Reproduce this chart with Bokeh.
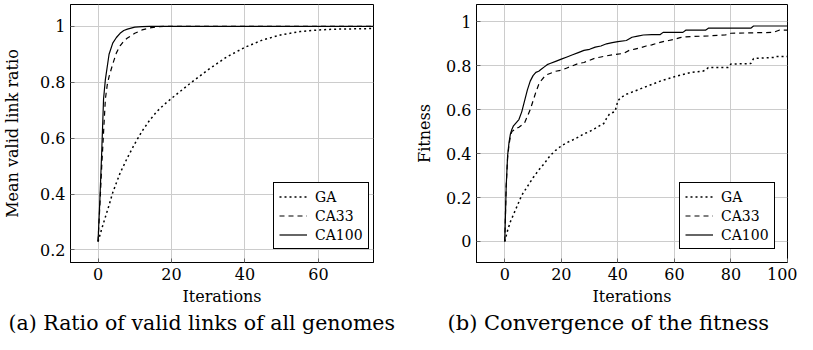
from bokeh.plotting import figure
from bokeh.models import Range1d, FixedTicker, Legend, LegendItem, Title
from bokeh.layouts import row
from bokeh.embed import file_html
from bokeh.resources import INLINE

FONT = "DejaVu Serif"

# ---------------- (a) Mean valid link ratio ----------------
a_ga_x = [0, 1, 2, 3, 4, 5, 6, 8, 10, 12, 14, 16, 18, 20, 25, 30, 35, 40, 45, 50, 55, 60, 65, 70, 75]
a_ga_y = [0.23, 0.275, 0.318, 0.36, 0.405, 0.44, 0.475, 0.53, 0.58, 0.625, 0.663, 0.695, 0.72, 0.742,
          0.795, 0.845, 0.89, 0.925, 0.952, 0.97, 0.981, 0.987, 0.990, 0.991, 0.992]

a_ca33_x = [0, 0.5, 1, 1.5, 2, 2.5, 3, 4, 5, 6, 7, 8, 10, 12, 14, 16, 18, 20, 75]
a_ca33_y = [0.23, 0.36, 0.50, 0.62, 0.74, 0.79, 0.82, 0.865, 0.905, 0.93, 0.947, 0.958, 0.975, 0.987,
            0.994, 0.998, 1.0, 1.0, 1.0]

a_ca100_x = [0, 0.5, 1, 1.5, 2, 3, 4, 5, 6, 7, 8, 10, 12, 14, 75]
a_ca100_y = [0.23, 0.38, 0.55, 0.74, 0.81, 0.90, 0.94, 0.96, 0.975, 0.985, 0.99, 0.997, 0.999, 1.0, 1.0]

a_xticks = [0, 20, 40, 60]
a_yticks = [0.2, 0.4, 0.6, 0.8, 1.0]
a_ylabels = ["0.2", "0.4", "0.6", "0.8", "1"]

# ---------------- (b) Fitness ----------------
b_ga_x = [0, 1, 2, 3, 4, 5, 6, 8, 10, 12, 14, 16, 18, 20, 22, 24, 26, 28, 30, 32, 34, 35, 36, 37, 39,
          40, 41, 43, 45, 47, 49, 52, 55, 58, 60, 63, 66, 70, 71, 72, 79, 80, 87, 88, 95, 96, 100]
b_ga_y = [0, 0.05, 0.09, 0.12, 0.15, 0.18, 0.21, 0.25, 0.29, 0.325, 0.355, 0.39, 0.415, 0.435, 0.45,
          0.462, 0.475, 0.49, 0.50, 0.515, 0.53, 0.537, 0.56, 0.58, 0.592, 0.64, 0.655, 0.67, 0.68,
          0.69, 0.70, 0.715, 0.73, 0.742, 0.75, 0.76, 0.77, 0.775, 0.78, 0.792, 0.792, 0.808, 0.81,
          0.833, 0.838, 0.842, 0.842]

b_ca33_x = [0, 0.5, 1, 1.5, 2, 2.5, 3, 4, 5, 6, 7, 8, 9, 10, 11, 12, 13, 14, 15, 16, 18, 20, 22, 24,
            26, 28, 30, 32, 34, 36, 38, 40, 42, 44, 46, 48, 50, 52, 54, 56, 58, 60, 62, 64, 72, 78,
            80, 95, 97, 100]
b_ca33_y = [0, 0.25, 0.38, 0.44, 0.48, 0.50, 0.505, 0.515, 0.52, 0.53, 0.54, 0.57, 0.60, 0.64, 0.68,
            0.715, 0.735, 0.75, 0.76, 0.765, 0.775, 0.78, 0.79, 0.80, 0.81, 0.815, 0.825, 0.835, 0.84,
            0.845, 0.85, 0.853, 0.856, 0.87, 0.876, 0.882, 0.89, 0.895, 0.903, 0.91, 0.915, 0.92,
            0.928, 0.932, 0.936, 0.94, 0.948, 0.952, 0.962, 0.962]

b_ca100_x = [0, 0.5, 1, 1.5, 2, 2.5, 3, 4, 5, 6, 7, 8, 9, 10, 11, 12, 13, 14, 15, 16, 18, 20, 22, 24,
             26, 28, 30, 32, 34, 36, 38, 40, 43, 45, 47, 49, 52, 55, 56, 63, 64, 71, 72, 87, 88, 100]
b_ca100_y = [0, 0.25, 0.39, 0.45, 0.49, 0.51, 0.525, 0.54, 0.555, 0.59, 0.64, 0.69, 0.73, 0.755, 0.77,
             0.775, 0.785, 0.795, 0.805, 0.81, 0.82, 0.83, 0.84, 0.85, 0.86, 0.87, 0.875, 0.885, 0.89,
             0.90, 0.905, 0.91, 0.915, 0.93, 0.935, 0.94, 0.942, 0.942, 0.952, 0.952, 0.962, 0.962,
             0.971, 0.971, 0.981, 0.981]

b_xticks = [0, 20, 40, 60, 80, 100]
b_yticks = [0, 0.2, 0.4, 0.6, 0.8, 1.0]
b_ylabels = ["0", "0.2", "0.4", "0.6", "0.8", "1"]

series_names = ["GA", "CA33", "CA100"]


def make_fig(width, bl, br, xr, yr, xticks, yticks, ylabels, ylabel, caption, cap_offset,
             cap_size, ylab_standoff, series):
    p = figure(width=width, height=334, x_range=Range1d(*xr), y_range=Range1d(*yr),
               output_backend="svg", toolbar_location=None,
               min_border_left=bl, min_border_right=br, min_border_top=4, min_border_bottom=70)
    p.background_fill_color = "white"
    p.border_fill_color = "white"
    p.outline_line_color = "black"
    p.outline_line_width = 1
    p.outline_line_alpha = 1.0

    p.xaxis.ticker = FixedTicker(ticks=xticks)
    p.yaxis.ticker = FixedTicker(ticks=yticks)
    p.yaxis.major_label_overrides = {v: s for v, s in zip(yticks, ylabels)}
    p.xaxis.axis_label = "Iterations"
    p.yaxis.axis_label = ylabel
    for ax in p.axis:
        ax.axis_label_text_font = FONT
        ax.axis_label_text_font_size = "16px"
        ax.axis_label_text_font_style = "normal"
        ax.axis_label_text_color = "black"
        ax.major_label_text_font = FONT
        ax.major_label_text_font_size = "16px"
        ax.major_label_text_color = "black"
        ax.major_tick_in = 4
        ax.major_tick_out = 0
        ax.major_tick_line_color = "#666666"
        ax.minor_tick_line_color = None
        ax.axis_line_color = "black"
        ax.major_label_standoff = 5
    p.xaxis.axis_label_standoff = 4
    p.yaxis.axis_label_standoff = ylab_standoff

    p.xgrid.grid_line_color = "#cccccc"
    p.ygrid.grid_line_color = "#cccccc"

    dashes = ["2 3", "5 4", "solid"]
    widths = [1.5, 1.2, 1.2]
    items = []
    for (xs, ys), name, dash, lw in zip(series, series_names, dashes, widths):
        r = p.line(xs, ys, line_color="black", line_width=lw, line_dash=dash)
        items.append(LegendItem(label=name, renderers=[r]))

    legend = Legend(items=items, location=(203, 13), margin=0, padding=5, spacing=2,
                    glyph_width=28, glyph_height=17, label_height=17, label_standoff=8,
                    label_text_font=FONT, label_text_font_size="14px", label_text_color="black",
                    border_line_color="black", border_line_width=1, border_line_alpha=1.0,
                    background_fill_color="white", background_fill_alpha=1.0)
    p.add_layout(legend)

    t = Title(text=caption, align="left", offset=cap_offset, text_font=FONT,
              text_font_size=cap_size, text_font_style="normal", text_color="black", standoff=0)
    p.add_layout(t, "below")
    return p


p1 = make_fig(400, 62, 27, (-7.5, 75), (0.155, 1.078), a_xticks, a_yticks, a_ylabels,
              "Mean valid link ratio", "(a) Ratio of valid links of all genomes", -62, "20.5px", 15,
              [(a_ga_x, a_ga_y), (a_ca33_x, a_ca33_y), (a_ca100_x, a_ca100_y)])
p2 = make_fig(397, 76, 10, (-10, 100), (-0.096, 1.079), b_xticks, b_yticks, b_ylabels,
              "Fitness", "(b) Convergence of the fitness", -29, "21px", 9,
              [(b_ga_x, b_ga_y), (b_ca33_x, b_ca33_y), (b_ca100_x, b_ca100_y)])

layout = row(p1, p2)
open("out.html", "w").write(file_html(layout, INLINE))
